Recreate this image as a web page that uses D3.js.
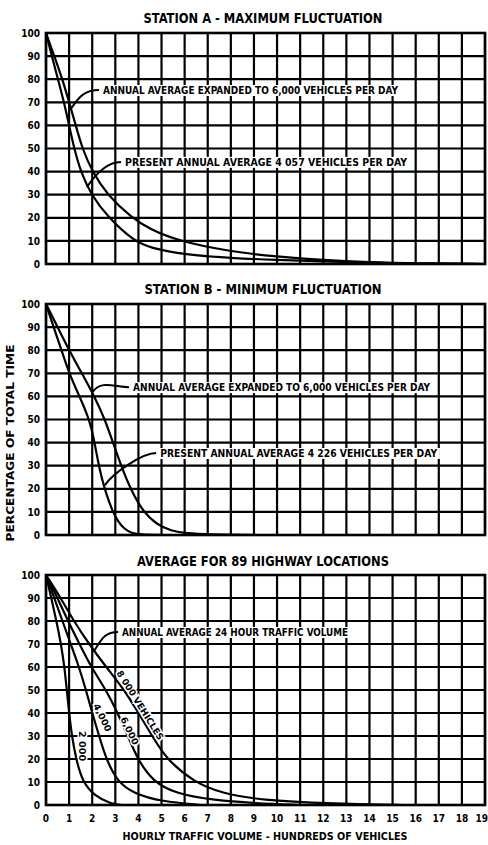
<!DOCTYPE html>
<html><head><meta charset="utf-8">
<script src="https://cdn.jsdelivr.net/npm/d3@7"></script>
<style>
html,body{margin:0;padding:0;background:#fff;overflow:hidden}
svg{display:block}
text{font-family:"DejaVu Sans Condensed","DejaVu Sans",sans-serif;font-weight:bold;fill:#000}
</style></head><body>
<svg id="chart" width="488" height="845"></svg>
<script>
// ---------- data ----------
const xTickLabels = ["0","1","2","3","4","5","6","7","8","9","10","11","12","13","14","15","16","17","18","19"];
const yTickLabels = [0,10,20,30,40,50,60,70,80,90,100];
const panelTitles = ["STATION A - MAXIMUM FLUCTUATION","STATION B - MINIMUM FLUCTUATION","AVERAGE FOR 89 HIGHWAY LOCATIONS"];
const xAxisTitle = "HOURLY TRAFFIC VOLUME - HUNDREDS OF VEHICLES";
const yAxisTitle = "PERCENTAGE OF TOTAL TIME";

// Station A  [hundreds of vehicles per hour, % of total time]
const stationA_present4057 = [[0,100],[0.25,90],[0.52,80],[0.78,70],[1.0,60],[1.22,50],[1.5,40],[1.95,30],[2.7,20],[3.8,10],[4.5,7],[6,4],[8,2.6],[10,1.7],[12,1.1],[14,0.5],[16,0.15],[19,0]];
const stationA_expanded6000 = [[0,100],[0.36,90],[0.71,80],[1.0,70],[1.29,60],[1.57,50],[2.0,40],[2.64,30],[3.71,20],[4.5,15],[5.7,10],[8,5.3],[10,3.2],[12,1.7],[14,0.8],[16,0.3],[19,0]];
// Station B
const stationB_present4226 = [[0,100],[0.33,90],[0.67,80],[1.0,70],[1.45,60],[1.75,53],[1.95,47],[2.1,40],[2.25,32],[2.4,25],[2.6,18],[2.85,11],[3.1,6],[3.4,2.5],[3.7,0.8],[4.1,0.2],[5,0]];
const stationB_expanded6000 = [[0,100],[0.5,90],[1.0,80],[1.55,70],[2.1,60],[2.55,50],[2.9,40],[3.25,30],[3.65,20],[4.2,10],[4.8,4.5],[5.4,1.8],[6.1,0.7],[7,0.3],[9.1,0]];
// Average for 89 highway locations
const avg2000 = [[0,100],[0.23,90],[0.45,80],[0.65,70],[0.8,60],[0.9,50],[1.0,40],[1.12,30],[1.3,20],[1.58,10],[2.1,4],[2.8,0.5],[3.3,0]];
const avg4000 = [[0,100],[0.36,90],[0.71,80],[1.07,70],[1.43,60],[1.73,50],[2.0,40],[2.3,30],[2.6,20],[3.1,10],[3.8,5],[5,1.5],[6.7,0]];
const avg6000 = [[0,100],[0.5,90],[0.95,80],[1.45,70],[1.95,60],[2.6,50],[3.1,40],[3.55,30],[3.95,20],[4.65,10],[5.6,5],[7.3,2],[9,0.8],[11,0]];
const avg8000 = [[0,100],[0.64,90],[1.2,80],[1.86,70],[2.6,60],[3.4,50],[4.0,40],[4.6,30],[5.2,20],[6.4,10],[7.6,5],[9.5,2],[11.5,1],[13.5,0.4],[15.5,0]];

// ---------- layout ----------
const svg = d3.select("#chart");
const x = d3.scaleLinear().domain([0,19]).range([46,485]);
const panels = [
  {title:panelTitles[0], titleY:18, top:33, bottom:264, titleW:239,
   series:[stationA_present4057, stationA_expanded6000],
   notes:[{t:"ANNUAL AVERAGE EXPANDED TO 6,000 VEHICLES PER DAY", tx:2.47, ty:75.3, ex:1.1, ey:67.5, w:295},
          {t:"PRESENT ANNUAL AVERAGE 4 057  VEHICLES PER DAY", tx:3.42, ty:44.2, ex:1.77, ey:33.3, w:282}]},
  {title:panelTitles[1], titleY:289, top:304, bottom:535, titleW:237,
   series:[stationB_present4226, stationB_expanded6000],
   notes:[{t:"ANNUAL AVERAGE EXPANDED TO 6,000 VEHICLES PER DAY", tx:3.77, ty:64, ex:2.03, ey:62, w:297},
          {t:"PRESENT ANNUAL AVERAGE 4 226 VEHICLES PER DAY", tx:4.94, ty:35.5, ex:2.55, ey:21.6, w:277}]},
  {title:panelTitles[2], titleY:561, top:575, bottom:805, titleW:252,
   series:[avg2000, avg4000, avg6000, avg8000],
   notes:[{t:"ANNUAL AVERAGE 24 HOUR TRAFFIC VOLUME", tx:3.29, ty:75.2, ex:2.05, ey:66.5, w:226}],
   rot:[{t:"2 000", cx:1.55, cy:25.6, a:90, w:30},
        {t:"4,000", cx:2.45, cy:38, a:64, w:30},
        {t:"6,000", cx:3.62, cy:32.3, a:64, w:30},
        {t:"8 000 VEHICLES", cx:4.08, cy:43.4, a:58, w:80}]}
];

panels.forEach((p,i) => {
  const y = d3.scaleLinear().domain([0,100]).range([p.bottom,p.top]);
  const g = svg.append("g");
  // grid
  g.selectAll(".v").data(xTickLabels.map(Number)).join("line")
    .attr("x1",d=>x(d)).attr("x2",d=>x(d)).attr("y1",p.top).attr("y2",p.bottom)
    .attr("stroke","#000").attr("stroke-width",2.2);
  g.selectAll(".h").data(yTickLabels).join("line")
    .attr("x1",x(0)).attr("x2",x(19)).attr("y1",d=>y(d)).attr("y2",d=>y(d))
    .attr("stroke","#000").attr("stroke-width",2.2);
  g.append("rect").attr("x",x(0)).attr("y",p.top).attr("width",x(19)-x(0)).attr("height",p.bottom-p.top)
    .attr("fill","none").attr("stroke","#000").attr("stroke-width",2.6);
  // y tick labels
  g.selectAll(".yl").data(yTickLabels).join("text")
    .attr("x",40).attr("y",d=>y(d)).attr("dy","0.36em").attr("text-anchor","end")
    .attr("font-size",10).text(d=>d);
  // title
  g.append("text").attr("x",263).attr("y",p.titleY).attr("dy","0.36em").attr("text-anchor","middle")
    .attr("font-size",14).attr("textLength",p.titleW).attr("lengthAdjust","spacingAndGlyphs").text(p.title);
  // curves
  const line = d3.line().x(d=>x(d[0])).y(d=>y(d[1])).curve(d3.curveBasis);
  g.selectAll(".c").data(p.series).join("path").attr("d",line)
    .attr("fill","none").attr("stroke","#000").attr("stroke-width",2.2);
  // annotations
  p.notes.forEach(n => {
    const sx = x(n.tx)-4, sy = y(n.ty), ex = x(n.ex), ey = y(n.ey);
    const t = g.append("text").attr("x",x(n.tx)).attr("y",sy).attr("dy","0.36em")
      .attr("font-size",11).attr("textLength",n.w).attr("lengthAdjust","spacingAndGlyphs").text(n.t);
    const bb = t.node().getBBox();
    g.insert("rect", () => t.node()).attr("x",bb.x-2).attr("y",bb.y+1).attr("width",bb.width+4).attr("height",bb.height-2).attr("fill","#fff");
    g.append("path").attr("d",`M${sx},${sy} C${sx-14},${sy} ${ex+8},${ey-12} ${ex},${ey}`)
      .attr("fill","none").attr("stroke","#000").attr("stroke-width",2);
  });
  (p.rot||[]).forEach(r => {
    g.append("text").attr("transform",`translate(${x(r.cx)},${y(r.cy)}) rotate(${r.a})`)
      .attr("text-anchor","middle").attr("dy","0.36em").attr("font-size",9)
      .attr("textLength",r.w).attr("lengthAdjust","spacingAndGlyphs")
      .attr("stroke","#fff").attr("stroke-width",3).attr("paint-order","stroke").text(r.t);
  });
  if (i===2) {
    g.selectAll(".xl").data(xTickLabels).join("text")
      .attr("x",(d,k)=> k===19 ? 488 : x(k)).attr("y",818).attr("dy","0.36em")
      .attr("text-anchor",(d,k)=> k===19 ? "end" : "middle")
      .attr("font-size",10).text(d=>d);
  }
});
svg.append("text").attr("x",265).attr("y",836).attr("dy","0.36em").attr("text-anchor","middle")
  .attr("font-size",11).attr("textLength",285).attr("lengthAdjust","spacingAndGlyphs").text(xAxisTitle);
svg.append("text").attr("transform","translate(10,443) rotate(-90)").attr("dy","0.36em").attr("text-anchor","middle")
  .attr("font-size",11).attr("textLength",197).attr("lengthAdjust","spacingAndGlyphs").text(yAxisTitle);
</script>
</body></html>
